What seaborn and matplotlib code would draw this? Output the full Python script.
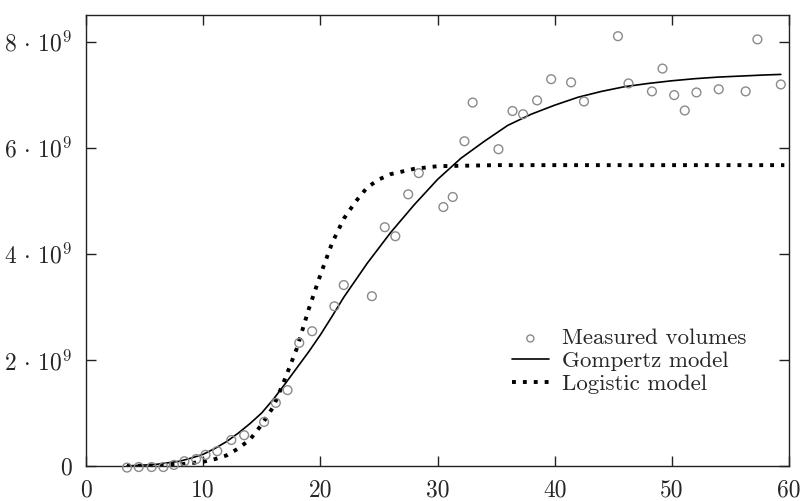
import numpy as np
import pandas as pd
import matplotlib
matplotlib.use("Agg")
import matplotlib.pyplot as plt
import matplotlib.ticker as mticker
import seaborn as sns

# --- Data (volumes in units of 1e9) ---
days_measured = [3.5, 4.5, 5.6, 6.6, 7.5, 8.4, 9.4, 10.2, 11.2, 12.4, 13.5, 15.2,
                 16.2, 17.2, 18.2, 19.3, 21.2, 22.0, 24.4, 25.5, 26.4, 27.5, 28.4,
                 30.5, 31.3, 32.3, 33.0, 35.2, 36.4, 37.3, 38.5, 39.7, 41.4, 42.5,
                 45.4, 46.3, 48.3, 49.2, 50.2, 51.1, 52.1, 54.0, 56.3, 57.3, 59.3]
vol_measured = [-0.03, -0.02, -0.02, -0.02, 0.02, 0.09, 0.13, 0.21, 0.28, 0.49, 0.58, 0.83,
                1.19, 1.43, 2.32, 2.54, 3.01, 3.41, 3.20, 4.50, 4.33, 5.12, 5.52,
                4.88, 5.07, 6.12, 6.85, 5.97, 6.69, 6.63, 6.89, 7.29, 7.23, 6.87,
                8.10, 7.21, 7.06, 7.49, 6.99, 6.70, 7.04, 7.10, 7.06, 8.04, 7.19]

days_gompertz = [3.5, 6, 8, 9, 10, 11, 12, 13, 14, 15, 16, 17, 18, 19, 20, 21, 22,
                 23, 24, 26, 28, 30, 32, 34, 36, 38, 40, 42, 44, 46, 48, 50, 52,
                 54, 56, 58, 59.3]
vol_gompertz = [0.0, 0.03, 0.09, 0.15, 0.22, 0.33, 0.46, 0.62, 0.8, 1.0, 1.26, 1.55,
                1.85, 2.15, 2.47, 2.82, 3.18, 3.5, 3.82, 4.4, 4.92, 5.4, 5.8, 6.12,
                6.42, 6.63, 6.8, 6.95, 7.06, 7.15, 7.21, 7.26, 7.30, 7.33, 7.35,
                7.37, 7.38]

days_logistic = [3.5, 6, 8, 10, 11, 12, 13, 14, 15, 16, 17, 18, 19, 20, 21, 22, 23,
                 24, 25, 26, 28, 30, 35, 40, 45, 50, 55, 59.6]
vol_logistic = [0.0, 0.01, 0.03, 0.08, 0.13, 0.2, 0.33, 0.5, 0.78, 1.12, 1.65, 2.22,
                2.95, 3.6, 4.2, 4.66, 4.98, 5.25, 5.4, 5.5, 5.6, 5.65, 5.67, 5.67,
                5.67, 5.67, 5.67, 5.67]

meas_df = pd.DataFrame({"day": days_measured, "volume": np.array(vol_measured) * 1e9})
gomp_df = pd.DataFrame({"day": days_gompertz, "volume": np.array(vol_gompertz) * 1e9})
logi_df = pd.DataFrame({"day": days_logistic, "volume": np.array(vol_logistic) * 1e9})

# --- Style ---
sns.set_theme(style="ticks")
plt.rcParams["font.family"] = "serif"
plt.rcParams["font.serif"] = ["cmr10"]
plt.rcParams["mathtext.fontset"] = "cm"
plt.rcParams["axes.formatter.use_mathtext"] = True

fig = plt.figure(figsize=(8.03, 5.01), dpi=100)
ax = fig.add_axes([0.1071, 0.0699, 0.8755, 0.9002])

sns.scatterplot(data=meas_df, x="day", y="volume", ax=ax, marker="o", s=40,
                facecolors="none", edgecolor="#8a8a8a", linewidth=1.0,
                label="Measured volumes", clip_on=False, zorder=3)
sns.lineplot(data=gomp_df, x="day", y="volume", ax=ax, color="black",
             linewidth=1.2, label="Gompertz model", sort=False)
sns.lineplot(data=logi_df, x="day", y="volume", ax=ax, color="black",
             linewidth=2.8, dashes=False, linestyle=(0, (1, 1.8)),
             dash_capstyle="butt", label="Logistic model", sort=False)

ax.set_xlim(0, 60)
ax.set_ylim(0, 8.5e9)
ax.set_xticks([0, 10, 20, 30, 40, 50, 60])
ax.set_yticks([0, 2e9, 4e9, 6e9, 8e9])


def y_fmt(v, pos):
    if v == 0:
        return "0"
    return r"$%d\,\cdot\,10^{9}$" % round(v / 1e9)


ax.yaxis.set_major_formatter(mticker.FuncFormatter(y_fmt))
ax.xaxis.set_major_formatter(mticker.FuncFormatter(lambda v, p: "%d" % v))
ax.set_xlabel("")
ax.set_ylabel("")

for side in ["top", "right", "bottom", "left"]:
    ax.spines[side].set_visible(True)
    ax.spines[side].set_linewidth(1.0)
    ax.spines[side].set_color("#222222")

ax.tick_params(axis="both", which="major", direction="in", length=7, width=1.0,
               color="#222222", labelsize=17, top=True, right=True)
ax.tick_params(axis="y", pad=10)
ax.tick_params(axis="x", pad=10)

leg = ax.legend(loc="upper left", bbox_to_anchor=(0.606, 0.305), frameon=False,
                fontsize=16.5, handlelength=1.6, handletextpad=0.6,
                labelspacing=0.12, borderpad=0, borderaxespad=0, markerscale=0.8)

fig.savefig("out.png", dpi=100)
